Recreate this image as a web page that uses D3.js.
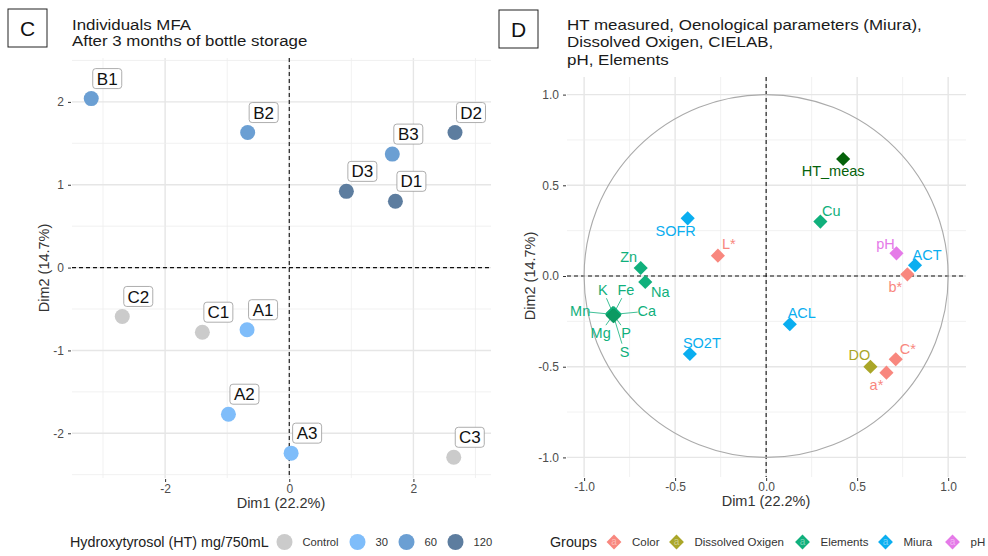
<!DOCTYPE html>
<html>
<head>
<meta charset="utf-8">
<style>
body { margin: 0; background: #fff; font-family: 'Liberation Sans', Arial, sans-serif; }
.tick text { fill: #4d4d4d; font-size: 12px; font-family: 'Liberation Sans', Arial, sans-serif; }
.tick line { stroke: #333; }
.axis .domain { display: none; }
</style>
</head>
<body>
<svg width="988" height="556"></svg>
<script src="https://cdnjs.cloudflare.com/ajax/libs/d3/7.8.5/d3.min.js"></script>
<script>
// ---- panel C data: individuals
var indNames = ["A1", "A2", "A3", "B1", "B2", "B3", "C1", "C2", "C3", "D1", "D2", "D3"];
var indDim1  = [-0.68, -0.98, 0.03, -3.19, -0.67, 1.66, -1.40, -2.69, 2.65, 1.71, 2.67, 0.92];
var indDim2  = [-0.75, -1.77, -2.24, 2.04, 1.63, 1.37, -0.78, -0.59, -2.29, 0.80, 1.63, 0.92];
var indGroup = ["30", "30", "30", "60", "60", "60", "Control", "Control", "Control", "120", "120", "120"];
var htLevels = ["Control", "30", "60", "120"];
var htColors = ["#cbcbcb", "#7fbdfa", "#6b9fd3", "#5d7d9f"];

// ---- panel D data: variables
var varNames = ["HT_meas", "Cu", "SOFR", "L*", "pH", "ACT", "b*", "Zn", "Na",
                "K", "Fe", "Mn", "Ca", "Mg", "P", "S", "ACL", "SO2T", "DO", "C*", "a*"];
var varDim1  = [0.423, 0.298, -0.431, -0.265, 0.716, 0.818, 0.776, -0.689, -0.664,
                -0.842, -0.836, -0.846, -0.832, -0.843, -0.835, -0.838, 0.130, -0.419, 0.573, 0.712, 0.661];
var varDim2  = [0.645, 0.300, 0.318, 0.112, 0.125, 0.059, 0.009, 0.044, -0.033,
                -0.204, -0.205, -0.211, -0.211, -0.218, -0.218, -0.222, -0.266, -0.430, -0.500, -0.459, -0.533];
var varGroup = ["HT", "Elements", "Miura", "Color", "pH", "Miura", "Color", "Elements", "Elements",
                "Elements", "Elements", "Elements", "Elements", "Elements", "Elements", "Elements",
                "Miura", "Miura", "Dissolved Oxigen", "Color", "Color"];
var groupNames  = ["Color", "Dissolved Oxigen", "Elements", "Miura", "pH"];
var groupColors = ["#f8877e", "#aaa628", "#10b07c", "#0aaef0", "#e57ae8"];

var axisTicksC = { x: [-2, 0, 2], y: [-2, -1, 0, 1, 2] };
var axisTicksD = [-1, -0.5, 0, 0.5, 1];

// label placement (pixels from the mark to the label centre)
var labelNudge = {
  "HT_meas": [-10, 12], "Cu": [11, -11], "SOFR": [-12, 12], "L*": [11, -12], "pH": [-11, -10],
  "ACT": [12, -11], "b*": [-12, 12], "Zn": [-12, -11], "Na": [15, 10], "K": [-10, -23],
  "Fe": [12, -23], "Mn": [-32, -3], "Ca": [32, -3], "Mg": [-12, 17], "P": [12, 17], "S": [11, 36],
  "ACL": [12, -11], "SO2T": [12, -11], "DO": [-11, -12], "C*": [12, -10], "a*": [-10, 12]
};

var svg = d3.select("svg");
var font = "'Liberation Sans', Arial, sans-serif";
// ggplot style labels: plain hyphen minus
var fmtInt = function(d) { return String(d); };
var fmtOne = function(d) { return d.toFixed(1); };

function panelGrid(x, y, xs, ys, x0, x1, y0, y1) {
  var g = svg.append("g");
  xs.forEach(function(d) {
    g.append("line").attr("x1", x(d[0])).attr("x2", x(d[0])).attr("y1", y0).attr("y2", y1)
      .attr("stroke", d[1] ? "#e6e6e6" : "#eeeeee").attr("stroke-width", d[1] ? 1.4 : 0.8);
  });
  ys.forEach(function(d) {
    g.append("line").attr("y1", y(d[0])).attr("y2", y(d[0])).attr("x1", x0).attr("x2", x1)
      .attr("stroke", d[1] ? "#e6e6e6" : "#eeeeee").attr("stroke-width", d[1] ? 1.4 : 0.8);
  });
  // dashed zero lines
  g.append("line").attr("x1", x0).attr("x2", x1).attr("y1", y(0)).attr("y2", y(0))
    .attr("stroke", "#111").attr("stroke-dasharray", "4,3").attr("stroke-width", 1.1);
  g.append("line").attr("x1", x(0)).attr("x2", x(0)).attr("y1", y0).attr("y2", y1)
    .attr("stroke", "#111").attr("stroke-dasharray", "4,3").attr("stroke-width", 1.1);
}

function letterBox(x, y, letter) {
  svg.append("rect").attr("x", x).attr("y", y).attr("width", 39).attr("height", 38)
    .attr("fill", "#fff").attr("stroke", "#222").attr("stroke-width", 1);
  svg.append("text").attr("x", x + 19.5).attr("y", y + 26.5).attr("text-anchor", "middle")
    .attr("font-family", font).attr("font-size", 21).attr("fill", "#111").text(letter);
}

// titles in the reference are set a little wide: stretch them horizontally
function titleLines(x, y, lines, step, stretch) {
  svg.append("g").attr("transform", "translate(" + x + "," + y + ") scale(" + stretch + ",1)")
    .selectAll("text").data(lines).enter().append("text")
    .attr("x", 0).attr("y", function(d, i) { return i * step; })
    .attr("font-family", font).attr("font-size", 15).attr("fill", "#1a1a1a")
    .text(function(d) { return d; });
}

// ================= panel C =================
var xC = d3.scaleLinear().domain([-3.5, 3.25]).range([72, 491]);
var yC = d3.scaleLinear().domain([-2.54, 2.53]).range([478, 58]);
var colC = d3.scaleOrdinal().domain(htLevels).range(htColors);

letterBox(8, 9, "C");
titleLines(72, 30, ["Individuals MFA", "After 3 months of bottle storage"], 16.5, 1.125);

panelGrid(xC, yC,
  [[-3, 0], [-1, 0], [1, 0], [3, 0], [-2, 1], [0, 1], [2, 1]],
  [[-2.5, 0], [-1.5, 0], [-0.5, 0], [0.5, 0], [1.5, 0], [2.5, 0], [-2, 1], [-1, 1], [0, 1], [1, 1], [2, 1]],
  72, 491, 58, 478);

svg.append("g").attr("class", "axis").attr("transform", "translate(71,0)")
  .call(d3.axisLeft(yC).tickValues(axisTicksC.y).tickSize(3).tickPadding(4).tickFormat(fmtInt));
svg.append("g").attr("class", "axis").attr("transform", "translate(0,479)")
  .call(d3.axisBottom(xC).tickValues(axisTicksC.x).tickSize(3).tickPadding(2).tickFormat(fmtInt));

var ind = indNames.map(function(n, i) {
  return { name: n, x: indDim1[i], y: indDim2[i], group: indGroup[i] };
});

svg.append("g").selectAll("circle").data(ind).enter().append("circle")
  .attr("cx", function(d) { return xC(d.x); })
  .attr("cy", function(d) { return yC(d.y); })
  .attr("r", 7.5)
  .attr("fill", function(d) { return colC(d.group); });

var indLab = svg.append("g").selectAll("g").data(ind).enter().append("g")
  .attr("transform", function(d) { return "translate(" + (xC(d.x) + 16) + "," + (yC(d.y) - 20) + ")"; });
indLab.append("text")
  .attr("text-anchor", "middle").attr("dy", "0.36em")
  .attr("font-family", font).attr("font-size", 17).attr("fill", "#111")
  .text(function(d) { return d.name; });
indLab.insert("rect", "text")
  .attr("x", -14.5).attr("y", -10).attr("width", 29).attr("height", 20).attr("rx", 3)
  .attr("fill", "#fff").attr("stroke", "#999").attr("stroke-width", 0.8);

svg.append("text").attr("x", 281).attr("y", 508).attr("text-anchor", "middle")
  .attr("font-family", font).attr("font-size", 14.5).attr("fill", "#333").text("Dim1 (22.2%)");
svg.append("text").attr("transform", "translate(49,268) rotate(-90)").attr("text-anchor", "middle")
  .attr("font-family", font).attr("font-size", 14.5).attr("fill", "#333").text("Dim2 (14.7%)");

// legend C
svg.append("text").attr("x", 70).attr("y", 547).attr("font-family", font).attr("font-size", 14.3)
  .attr("fill", "#222").text("Hydroxytyrosol (HT) mg/750mL");
var legC = svg.append("g").selectAll("g").data(htLevels).enter().append("g")
  .attr("transform", function(d, i) { return "translate(" + [284.5, 357.5, 406.5, 455.5][i] + ",542)"; });
legC.append("circle").attr("r", 8).attr("fill", colC);
legC.append("text").attr("x", 18).attr("dy", "0.36em").attr("font-family", font)
  .attr("font-size", 11.2).attr("fill", "#333").text(function(d) { return d; });

// ================= panel D =================
var xD = d3.scaleLinear().domain([-1.094, 1.098]).range([567, 966]);
var yD = d3.scaleLinear().domain([-1.108, 1.097]).range([477, 77]);
var colD = d3.scaleOrdinal().domain(groupNames.concat(["HT"])).range(groupColors.concat(["#05620a"]));

letterBox(499, 10, "D");
titleLines(567, 30, ["HT measured, Oenological parameters (Miura),", "Dissolved Oxigen, CIELAB,", "pH, Elements"], 17.5, 1.13);

panelGrid(xD, yD,
  [[-0.75, 0], [-0.25, 0], [0.25, 0], [0.75, 0], [-1, 1], [-0.5, 1], [0, 1], [0.5, 1], [1, 1]],
  [[-0.75, 0], [-0.25, 0], [0.25, 0], [0.75, 0], [-1, 1], [-0.5, 1], [0, 1], [0.5, 1], [1, 1]],
  567, 966, 77, 477);

svg.append("ellipse")
  .attr("cx", xD(0)).attr("cy", yD(0))
  .attr("rx", xD(1) - xD(0)).attr("ry", yD(0) - yD(1))
  .attr("fill", "none").attr("stroke", "#aaaaaa").attr("stroke-width", 1.1);

svg.append("g").attr("class", "axis").attr("transform", "translate(566,0)")
  .call(d3.axisLeft(yD).tickValues(axisTicksD).tickSize(3).tickPadding(4).tickFormat(fmtOne));
svg.append("g").attr("class", "axis").attr("transform", "translate(0,478)")
  .call(d3.axisBottom(xD).tickValues(axisTicksD).tickSize(3).tickPadding(1).tickFormat(fmtOne));

var vars = varNames.map(function(n, i) {
  return { name: n, x: varDim1[i], y: varDim2[i], group: varGroup[i] };
});

// connector segments for labels pushed far from their mark
svg.append("g").selectAll("line")
  .data(vars.filter(function(d) { var n = labelNudge[d.name]; return Math.abs(n[1]) > 15 || Math.abs(n[0]) > 20; }))
  .enter().append("line")
  .attr("x1", function(d) { return xD(d.x); })
  .attr("y1", function(d) { return yD(d.y); })
  .attr("x2", function(d) { var n = labelNudge[d.name], l = Math.hypot(n[0], n[1]); return xD(d.x) + n[0] * (l - 9) / l; })
  .attr("y2", function(d) { var n = labelNudge[d.name], l = Math.hypot(n[0], n[1]); return yD(d.y) + n[1] * (l - 9) / l; })
  .attr("stroke", function(d) { return colD(d.group); }).attr("stroke-width", 0.8);

var diamond = d3.symbol().type(d3.symbolSquare).size(100);
svg.append("g").selectAll("path").data(vars).enter().append("path")
  .attr("d", diamond)
  .attr("transform", function(d) { return "translate(" + xD(d.x) + "," + yD(d.y) + ") rotate(45)"; })
  .attr("fill", function(d) { return d.group === "Elements" && labelNudge[d.name][1] > 15 || d.name === "K" ? "#0c9a62" : colD(d.group); });

svg.append("g").selectAll("text").data(vars).enter().append("text")
  .attr("x", function(d) { return xD(d.x) + labelNudge[d.name][0]; })
  .attr("y", function(d) { return yD(d.y) + labelNudge[d.name][1]; })
  .attr("dy", "0.36em").attr("text-anchor", "middle")
  .attr("font-family", font).attr("font-size", 14.5)
  .attr("fill", function(d) { return colD(d.group); })
  .text(function(d) { return d.name; });

svg.append("text").attr("x", 766).attr("y", 506).attr("text-anchor", "middle")
  .attr("font-family", font).attr("font-size", 14.5).attr("fill", "#333").text("Dim1 (22.2%)");
svg.append("text").attr("transform", "translate(535,276) rotate(-90)").attr("text-anchor", "middle")
  .attr("font-family", font).attr("font-size", 14.5).attr("fill", "#333").text("Dim2 (14.7%)");

// legend D
svg.append("text").attr("x", 550).attr("y", 547).attr("font-family", font).attr("font-size", 14.3)
  .attr("fill", "#222").text("Groups");
var legD = svg.append("g").selectAll("g").data(groupNames).enter().append("g")
  .attr("transform", function(d, i) { return "translate(" + [614, 676.5, 802.5, 885.5, 952.5][i] + ",542)"; });
legD.append("path").attr("d", d3.symbol().type(d3.symbolSquare).size(110)).attr("transform", "rotate(45)")
  .attr("fill", colD);
legD.append("text").attr("dy", "0.33em").attr("text-anchor", "middle").attr("font-family", font)
  .attr("font-size", 10).attr("fill", "#fff").attr("fill-opacity", 0.45).text("a");
legD.append("text").attr("x", 18).attr("dy", "0.36em").attr("font-family", font)
  .attr("font-size", 11.5).attr("fill", "#333").text(function(d) { return d; });
</script>
</body>
</html>
